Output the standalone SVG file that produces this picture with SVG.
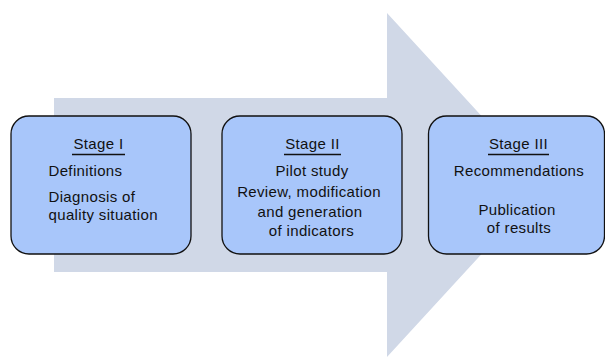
<svg xmlns="http://www.w3.org/2000/svg" width="605" height="357" viewBox="0 0 605 357">
<style>
.box{fill:#a8c6fa;stroke:#111;stroke-width:1.3}
text{font-family:"Liberation Sans",Arial,sans-serif;font-size:15px;letter-spacing:0.35px;fill:#111}
.c{text-anchor:middle}
.ul{stroke:#111;stroke-width:1.4}
</style>
<rect width="605" height="357" fill="#fff"/>
<g id="arrow">
<polygon points="54,98 387,98 387,13 545,185 387,357 387,272 54,272" fill="#d0d8e7"/>
</g>
<g id="connectors"></g>
<g id="stage1">
<rect class="box" x="11" y="116" width="180" height="138" rx="18" ry="18"/>
<text class="c" x="98.5" y="148.5">Stage I</text>
<line class="ul" x1="72" y1="154.5" x2="125" y2="154.5"/>
<text x="48.5" y="176">Definitions</text>
<text x="48.5" y="202">Diagnosis of</text>
<text x="48.5" y="220">quality situation</text>
</g>
<g id="stage2">
<rect class="box" x="222" y="116" width="180" height="138" rx="18" ry="18"/>
<text class="c" x="312.5" y="149">Stage II</text>
<line class="ul" x1="284" y1="154.5" x2="341" y2="154.5"/>
<text class="c" x="312" y="175.7">Pilot study</text>
<text class="c" x="309" y="196.7">Review, modification</text>
<text class="c" x="310" y="217.3">and generation</text>
<text class="c" x="311.5" y="236">of indicators</text>
</g>
<g id="stage3">
<rect class="box" x="428.5" y="116" width="176" height="138" rx="18" ry="18"/>
<text class="c" x="518.5" y="149">Stage III</text>
<line class="ul" x1="488" y1="154.5" x2="549" y2="154.5"/>
<text class="c" x="519" y="175.7">Recommendations</text>
<text class="c" x="517" y="215">Publication</text>
<text class="c" x="519" y="233.3">of results</text>
</g>
</svg>
